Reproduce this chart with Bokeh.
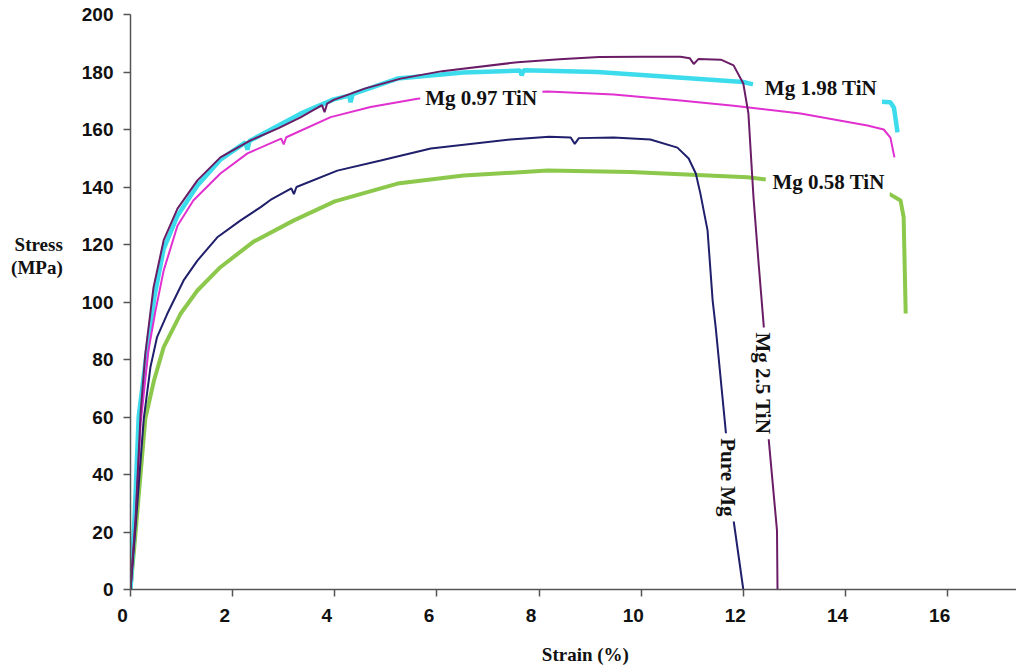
from bokeh.plotting import figure
from bokeh.models import Range1d, FixedTicker, Label
from bokeh.embed import file_html
from bokeh.resources import INLINE

nan = float("nan")
NB = "\u00a0"

# ---- data (strain %, stress MPa) ----
pure_mg_strain = [0, 0.10, 0.26, 0.39, 0.52, 0.72, 1.04, 1.31, 1.70, 2.15, 2.55, 2.74, 3.15, 3.20,
                  3.25, 4.05, 4.90, 5.88, 7.44, 8.20, 8.62, 8.70, 8.78, 9.46, 10.18, 10.71, 10.93,
                  11.07, 11.16, 11.30, 11.40, 11.46, 11.65, 11.81, 12.00]
pure_mg_stress = [0, 22, 59.4, 77.3, 87.8, 95.9, 107.5, 114.4, 122.5, 128.3, 133.0, 135.5, 139.5, 137.5,
                  140.0, 145.7, 149.2, 153.4, 156.5, 157.5, 157.2, 155.0, 157.0, 157.2, 156.5, 153.7, 149.9,
                  144.7, 137.7, 124.9, 100.5, 91.1, 56.3, 24.0, 0]

mg25_strain = [0, 0.10, 0.20, 0.29, 0.45, 0.65, 0.92, 1.31, 1.76, 2.35, 2.90, 3.33, 3.75, 3.80,
               3.85, 3.98, 4.60, 5.29, 6.10, 7.58, 8.40, 9.18, 10.00, 10.77, 10.95, 11.03, 11.12,
               11.56, 11.81, 12.00, 12.10, 12.20, 12.30, 12.40, 12.50, 12.66, 12.67]
mg25_stress = [0, 25, 62, 82, 105, 121.5, 132.5, 142.3, 150.3, 156.2, 160.5, 164.2, 168.5, 166.0,
               169.0, 170.3, 174.3, 177.7, 180.3, 183.4, 184.4, 185.2, 185.3, 185.3, 184.8, 182.8, 184.5,
               184.3, 182.3, 176.0, 165.6, 136.3, 113.4, 91.8, 51.8, 20.5, 0]

mg198_strain = [0, 0.08, 0.16, 0.30, 0.47, 0.65, 0.92, 1.31, 1.76, 2.25, 2.29, 2.33, 3.33, 3.98,
                4.28, 4.31, 4.35, 5.23, 6.52, 7.63, 7.66, 7.70, 9.14, 10.44, 12.00, 12.19,
                nan, 14.36, 14.88, 14.95, 15.02]
mg198_stress = [0, 25, 60, 80, 102, 118.5, 130, 140.5, 149.5, 155.5, 153.0, 156.0, 165.5, 170.5,
                171.8, 169.5, 172.3, 177.7, 179.8, 180.5, 178.8, 180.6, 180.0, 178.4, 176.5, 175.7,
                nan, 170.0, 169.5, 167.6, 159.0]

mg097_strain = [0, 0.10, 0.20, 0.35, 0.49, 0.65, 0.92, 1.23, 1.76, 2.29, 2.95, 3.00, 3.05, 3.92,
                4.70, 5.62, 6.80, 8.17, 9.46, 10.77, 11.81, 13.12, 14.43, 14.75, 14.88, 14.96]
mg097_stress = [0, 24, 58, 83, 97.0, 111.0, 126.5, 135.3, 144.7, 151.7, 156.8, 154.8, 157.3, 164.3,
                167.8, 170.7, 172.5, 173.2, 172.2, 170.1, 168.3, 165.6, 161.4, 160.0, 157.2, 150.3]

mg058_strain = [0, 0.10, 0.29, 0.46, 0.65, 0.98, 1.31, 1.76, 2.41, 3.19, 4.00, 5.23, 6.52, 8.17,
                9.79, 12.08, 12.44, nan, 14.85, 15.08, 15.14, 15.18]
mg058_stress = [0, 20, 59.4, 72.7, 84.3, 95.9, 104.0, 112.1, 121.0, 128.3, 135.0, 141.2, 144.0, 145.7,
                145.2, 143.4, 142.6, nan, 137.7, 135.3, 129.4, 96]

x_ticks = [0, 2, 4, 6, 8, 10, 12, 14, 16]
x_tick_labels = ["0", "2", "4", "6", "8", "10", "12", "14", "16"]
y_ticks = [0, 20, 40, 60, 80, 100, 120, 140, 160, 180, 200]

# (name, strain, stress, colour, width) in drawing order
series = [
    ("Mg 0.58 TiN", mg058_strain, mg058_stress, "#8cc84b", 4.0),
    ("Mg 1.98 TiN", mg198_strain, mg198_stress, "#3cdcec", 4.5),
    ("Mg 0.97 TiN", mg097_strain, mg097_stress, "#e030d0", 2.0),
    ("Pure Mg", pure_mg_strain, pure_mg_stress, "#1f1f6b", 2.0),
    ("Mg 2.5 TiN", mg25_strain, mg25_stress, "#6a1d66", 2.0),
]

# curve labels: (text, x, y, angle)
curve_labels = [
    ("Mg 1.98 TiN", 13.52, 174.6, 0.0),
    ("Mg 0.58 TiN", 13.67, 141.9, 0.0),
    ("Mg 0.97 TiN", 6.87, 171.1, 0.0),
    ("Mg 2.5 TiN", 12.38, 71.7, -1.5708),
    ("Pure Mg", 11.70, 39.0, -1.5708),
]

p = figure(width=1016, height=670, output_backend="svg", toolbar_location=None,
           x_range=Range1d(0, 17.35), y_range=Range1d(0, 200),
           min_border_left=130, min_border_right=0, min_border_top=14, min_border_bottom=81)
p.outline_line_color = None
p.grid.visible = False
p.background_fill_color = "white"
p.border_fill_color = "white"

for name, xs, ys, col, w in series:
    p.line(xs, ys, line_color=col, line_width=w)

for ax in (p.xaxis[0], p.yaxis[0]):
    ax.axis_line_color = "#555555"
    ax.axis_line_width = 1.5
    ax.major_tick_line_color = "#555555"
    ax.major_tick_line_width = 1.5
    ax.major_tick_out = 7
    ax.major_tick_in = 0
    ax.minor_tick_line_color = None
    ax.major_label_text_font = "Liberation Sans"
    ax.major_label_text_font_style = "bold"
    ax.major_label_text_font_size = "19px"
    ax.major_label_text_color = "#111111"
    ax.axis_label_text_font = "Liberation Serif"
    ax.axis_label_text_font_style = "bold"
    ax.axis_label_text_font_size = "19px"
    ax.axis_label_text_color = "#111111"

p.yaxis.ticker = FixedTicker(ticks=y_ticks)
p.yaxis.major_label_standoff = 10
p.yaxis.axis_label = "Stress\n(MPa)" + "\n" + NB + "\n" + NB + "\n" + NB + "\n" + NB
p.yaxis.axis_label_orientation = "horizontal"
p.yaxis.axis_label_standoff = 16
p.yaxis.axis_label_text_line_height = 1.1

p.xaxis.ticker = FixedTicker(ticks=x_ticks)
p.xaxis.major_label_overrides = {v: t + NB * 3 for v, t in zip(x_ticks, x_tick_labels)}
p.xaxis.major_label_standoff = 8
p.xaxis.axis_label = NB * 5 + "Strain (%)"
p.xaxis.axis_label_standoff = 15

serif = dict(text_font="Liberation Serif", text_font_style="bold", text_color="#111111",
             text_align="center", text_baseline="middle")

for t, x, y, a in curve_labels:
    p.add_layout(Label(x=x, y=y, text=t, angle=a, text_font_size="21px",
                       background_fill_color="white", padding=5, **serif))

open("out.html", "w").write(file_html(p, INLINE))
